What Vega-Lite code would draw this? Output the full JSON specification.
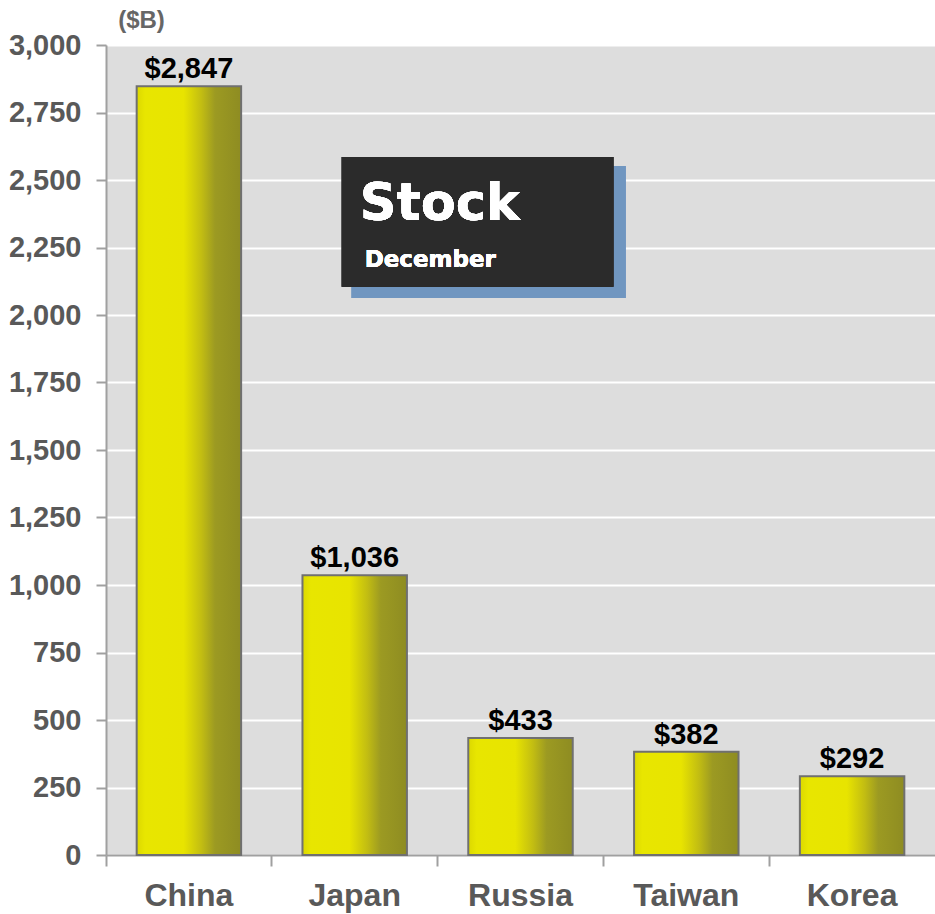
{
  "$schema": "https://vega.github.io/schema/vega-lite/v6.json",
  "width": 829,
  "height": 810,
  "autosize": {"type": "none"},
  "padding": {"left": 106, "top": 45, "right": 0, "bottom": 59},
  "background": "white",
  "config": {
    "view": {"fill": "#dddddd", "stroke": null},
    "font": "Liberation Sans"
  },
  "data": {
    "values": [
      {"Country": "China", "Value": 2847},
      {"Country": "Japan", "Value": 1036},
      {"Country": "Russia", "Value": 433},
      {"Country": "Taiwan", "Value": 382},
      {"Country": "Korea", "Value": 292}
    ]
  },
  "resolve": {"scale": {"x": "independent"}},
  "layer": [
    {
      "encoding": {
        "x": {
          "field": "Country", "type": "nominal", "sort": null,
          "scale": {"paddingInner": 0, "paddingOuter": 0},
          "axis": {
            "title": null, "labelAngle": 0, "bandPosition": 0,
            "domainColor": "#a0a0a0", "domainWidth": 2,
            "tickColor": "#a0a0a0", "tickWidth": 2, "tickSize": 11,
            "labelFont": "Liberation Sans", "labelFontSize": 32, "labelFontWeight": "bold",
            "labelColor": "#595959", "labelPadding": 14, "grid": false
          }
        },
        "y": {
          "field": "Value", "type": "quantitative",
          "scale": {"domain": [0, 3000], "nice": false},
          "axis": {
            "values": [0, 250, 500, 750, 1000, 1250, 1500, 1750, 2000, 2250, 2500, 2750, 3000],
            "format": ",d",
            "title": "($B)", "titleAngle": 0, "titleX": 35, "titleY": -25,
            "titleAlign": "center", "titleBaseline": "middle",
            "titleFont": "Liberation Sans", "titleFontSize": 24, "titleFontWeight": "bold", "titleColor": "#666666",
            "domainColor": "#a0a0a0", "domainWidth": 2,
            "tickColor": "#a0a0a0", "tickWidth": 2, "tickSize": 10,
            "labelFont": "Liberation Sans", "labelFontSize": 29, "labelFontWeight": "bold",
            "labelColor": "#595959", "labelPadding": 15,
            "grid": true, "gridColor": "#ffffff", "gridWidth": 2
          }
        }
      },
      "layer": [
        {
          "mark": {
            "type": "bar",
            "width": {"band": 0.63},
            "stroke": "#707070",
            "strokeWidth": 2,
            "color": {
              "gradient": "linear", "x1": 0, "y1": 0, "x2": 1, "y2": 0,
              "stops": [
                {"offset": 0, "color": "#dcd800"},
                {"offset": 0.08, "color": "#e8e600"},
                {"offset": 0.45, "color": "#e8e400"},
                {"offset": 0.62, "color": "#c2bd12"},
                {"offset": 0.75, "color": "#9c9a22"},
                {"offset": 1, "color": "#8e8c22"}
              ]
            }
          }
        },
        {
          "mark": {
            "type": "text", "baseline": "alphabetic", "dy": -8,
            "font": "Liberation Sans", "fontSize": 29, "fontWeight": "bold", "color": "#000000"
          },
          "encoding": {
            "text": {"field": "Value", "type": "quantitative", "format": "$,.0f"}
          }
        }
      ]
    },
    {
      "layer": [
        {
          "mark": {"type": "rect", "color": "#7096c0"},
          "encoding": {
            "x": {"datum": 1.482, "type": "quantitative", "scale": {"domain": [0, 5], "nice": false, "zero": false}, "axis": null},
            "x2": {"datum": 3.133},
            "y": {"datum": 2552, "type": "quantitative"},
            "y2": {"datum": 2063}
          }
        },
        {
          "mark": {"type": "rect", "color": "#2b2b2b"},
          "encoding": {
            "x": {"datum": 1.422, "type": "quantitative", "scale": {"domain": [0, 5], "nice": false, "zero": false}, "axis": null},
            "x2": {"datum": 3.06},
            "y": {"datum": 2585, "type": "quantitative"},
            "y2": {"datum": 2105}
          }
        },
        {
          "mark": {"type": "text", "text": "Stock", "align": "left", "baseline": "alphabetic",
            "font": "DejaVu Sans", "fontSize": 51, "fontWeight": "bold", "color": "#ffffff"},
          "encoding": {
            "x": {"datum": 1.53, "type": "quantitative", "scale": {"domain": [0, 5], "nice": false, "zero": false}, "axis": null},
            "y": {"datum": 2352, "type": "quantitative"}
          }
        },
        {
          "mark": {"type": "text", "text": "December", "align": "left", "baseline": "alphabetic",
            "font": "DejaVu Sans", "fontSize": 23, "fontWeight": "bold", "color": "#ffffff"},
          "encoding": {
            "x": {"datum": 1.56, "type": "quantitative", "scale": {"domain": [0, 5], "nice": false, "zero": false}, "axis": null},
            "y": {"datum": 2178, "type": "quantitative"}
          }
        }
      ]
    }
  ]
}
